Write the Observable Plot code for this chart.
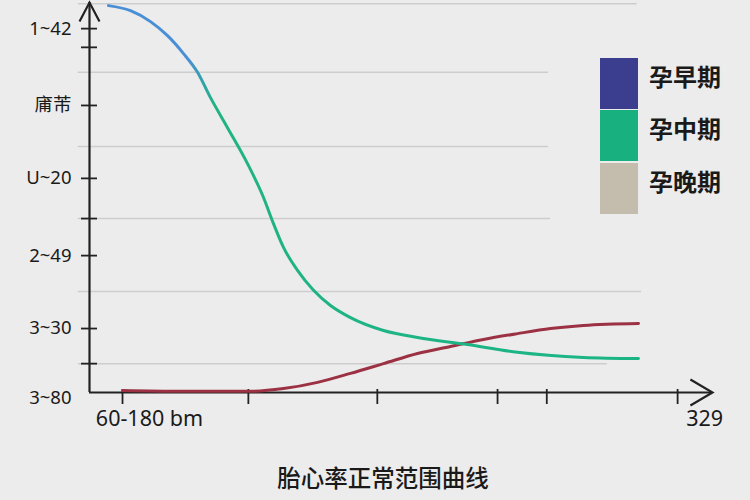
<!DOCTYPE html>
<html>
<head>
<meta charset="utf-8">
<script src="https://cdn.jsdelivr.net/npm/d3@7"></script>
<script src="https://cdn.jsdelivr.net/npm/@observablehq/plot@0.6"></script>
<style>
  html, body { margin: 0; padding: 0; background: #ececec; }
  #wrap { position: relative; width: 750px; height: 500px; background: #ececec; overflow: hidden;
          font-family: "Noto Sans", "Noto Sans CJK SC", sans-serif; }
  #legend { position: absolute; left: 600px; top: 57px; }
  .item { display: flex; align-items: center; height: 52.5px; }
  .sw { width: 38px; height: 51px; margin-right: 11px; }
  .lab { font-family: "Noto Sans CJK SC", sans-serif; font-size: 24px; font-weight: 700; color: #1a1a1a;
         position: relative; top: -8px; }
</style>
</head>
<body>
<div id="wrap"></div>
<script>
// ---- data ----
const curveAX = [3.05, 6.58, 9.79, 12.52, 15.09, 17.34, 19.42, 22.15, 25.36, 27.93, 29.53, 31.14, 33.39, 35.96, 38.68, 41.89, 47.19, 52.65, 60.67, 68.7, 79.29, 88.12];
const curveAY = [99.2, 97.9, 95.1, 91.5, 86.9, 82.1, 75.6, 67.9, 58.7, 50.0, 43.3, 37.2, 31.3, 26.2, 22.3, 19.2, 15.9, 14.1, 12.3, 10.3, 9.0, 8.7];
const curveBX = [5.3, 14.6, 25.84, 31.14, 36.6, 41.89, 47.19, 52.65, 57.95, 63.24, 68.7, 74.0, 79.29, 88.12];
const curveBY = [0.5, 0.3, 0.3, 1.0, 2.6, 4.9, 7.4, 10.0, 11.8, 13.6, 15.1, 16.4, 17.2, 17.7];
const yTicks = [93.3, 88.5, 73.6, 54.9, 44.6, 35.1, 16.4, 7.4];
const yTickLabels = ["1~42", "", "庯芾", "U~20", "", "2~49", "3~30", ""];
const yBottomLabel = "3~80";
const xTicks = [5.3, 25.5, 46.2, 65.5, 73.4, 94.4];
const xTickLabels = ["60-180 bm", "", "", "", "", "329"];
const gridY = [99.7, 82.1, 63.1, 44.6, 25.9, 7.4];
const gridEnd = [87.9, 73.7, 73.7, 74.0, 88.6, 83.1];
const legendLabels = ["孕早期", "孕中期", "孕晚期"];
const legendColors = ["#3b3d8f", "#19b07f", "#c4bcad"];
const title = "胎心率正常范围曲线";

const seriesA = curveAX.map((x, i) => ({x, y: curveAY[i]}));
const seriesB = curveBX.map((x, i) => ({x, y: curveBY[i]}));
const grid = gridY.map((y, i) => ({y, x2: gridEnd[i]}));

const arrowRight = {draw(ctx, size) { const r = Math.sqrt(size / Math.PI); ctx.moveTo(-1.7 * r, -r); ctx.lineTo(0, 0); ctx.lineTo(-1.7 * r, r); }};
const arrowUp = {draw(ctx, size) { const r = Math.sqrt(size / Math.PI); ctx.moveTo(-r, 1.9 * r); ctx.lineTo(0, 0); ctx.lineTo(r, 1.9 * r); }};

const gradDefs = () => {
  const defs = d3.create("svg:defs");
  const g = defs.append("linearGradient").attr("id", "blueGreen").attr("x1", "0").attr("x2", "1").attr("y1", "0").attr("y2", "0");
  g.append("stop").attr("offset", "0.15").attr("stop-color", "#4a8fd6");
  g.append("stop").attr("offset", "0.20").attr("stop-color", "#20b384");
  g.append("stop").attr("offset", "1").attr("stop-color", "#1bb585");
  return defs.node();
};

const chart = Plot.plot({
  width: 750,
  height: 500,
  marginLeft: 89,
  marginRight: 38,
  marginTop: 2,
  marginBottom: 108,
  style: {background: "transparent", fontFamily: "'Noto Sans', 'Noto Sans CJK SC', sans-serif", color: "#1a1a1a"},
  x: {domain: [0, 100], axis: null},
  y: {domain: [0, 100], axis: null},
  marks: [
    gradDefs,
    Plot.ruleY(grid, {y: "y", x1: -1.8, x2: "x2", stroke: "#cdcdcd", strokeWidth: 1.5}),
    Plot.axisY(yTicks, {tickSize: 16, dx: 8, tickPadding: 10, tickFormat: (d) => yTickLabels[yTicks.indexOf(d)],
      fontSize: 18.5, stroke: "#222", strokeWidth: 1.8, label: null}),
    Plot.text([yBottomLabel], {frameAnchor: "bottom-left", textAnchor: "end", dx: -18, dy: 11, fontSize: 18.5, fill: "#1a1a1a"}),
    Plot.axisX(xTicks, {tickSize: 15, dy: -3, tickFormat: () => "", stroke: "#222", strokeWidth: 1.8, label: null}),
    Plot.text(xTicks, {x: d => d, text: (d) => xTickLabels[xTicks.indexOf(d)], frameAnchor: "bottom", dx: 27, dy: 33, fontSize: 21.5, fill: "#1a1a1a"}),
    Plot.ruleX([0], {stroke: "#222", strokeWidth: 2.2}),
    Plot.ruleY([0], {stroke: "#222", strokeWidth: 2.2}),
    Plot.dot([{x: 100, y: 0}], {x: "x", y: "y", symbol: arrowRight, r: 13, fill: "none", stroke: "#222", strokeWidth: 2.2}),
    Plot.dot([{x: 0, y: 100}], {x: "x", y: "y", symbol: arrowUp, r: 10, fill: "none", stroke: "#222", strokeWidth: 2.2}),
    Plot.line(seriesB, {x: "x", y: "y", curve: "monotone-x", stroke: "#9b3143", strokeWidth: 3}),
    Plot.line(seriesA, {x: "x", y: "y", curve: "monotone-x", stroke: "url(#blueGreen)", strokeWidth: 3}),
    Plot.text([title], {frameAnchor: "bottom", dx: -18, dy: 94, fontSize: 23.5, fontWeight: 500, fill: "#1a1a1a",
      fontFamily: "'Noto Sans CJK SC', sans-serif"})
  ]
});

const wrap = document.getElementById("wrap");
wrap.appendChild(chart);
const legend = document.createElement("div");
legend.id = "legend";
legendLabels.forEach((l, i) => {
  const item = document.createElement("div");
  item.className = "item";
  const sw = document.createElement("div");
  sw.className = "sw";
  sw.style.background = legendColors[i];
  const lab = document.createElement("span");
  lab.className = "lab";
  lab.textContent = l;
  item.appendChild(sw);
  item.appendChild(lab);
  legend.appendChild(item);
});
wrap.appendChild(legend);
</script>
</body>
</html>
